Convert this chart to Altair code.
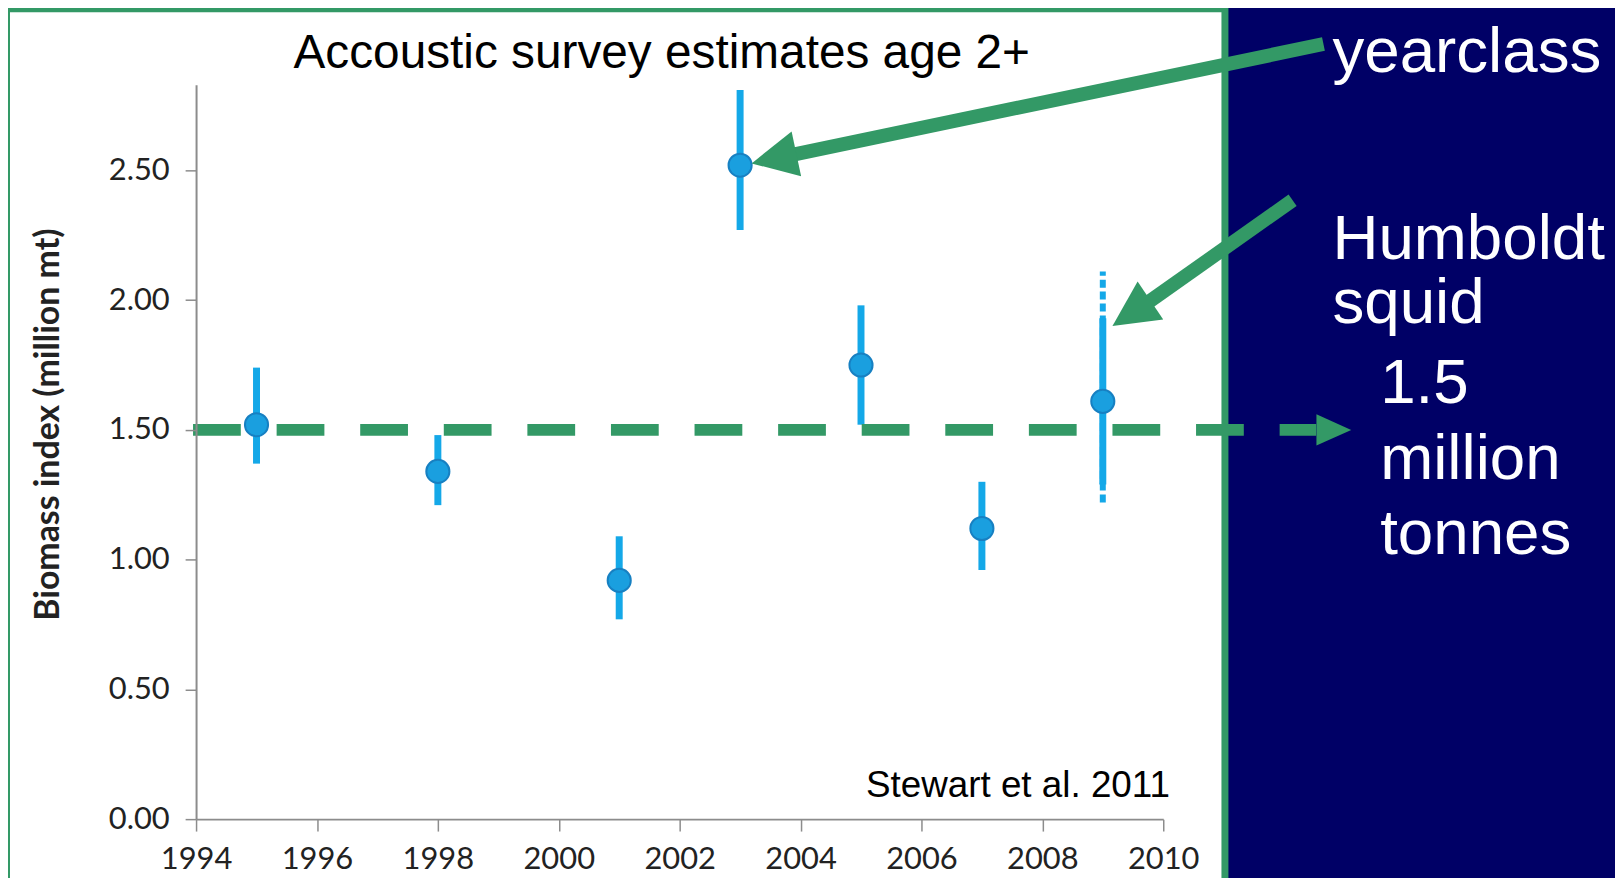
import altair as alt
import pandas as pd

# ---------------- data ----------------
years = [1995, 1998, 2001, 2003, 2005, 2007, 2009]
biomass = [1.52, 1.34, 0.92, 2.52, 1.75, 1.12, 1.61]
ci_low = [1.37, 1.21, 0.77, 2.27, 1.52, 0.96, 1.29]
ci_high = [1.74, 1.48, 1.09, 2.81, 1.98, 1.30, 1.93]

# wider (dashed) interval shown for 2009
wide_year = [2009]
wide_low = [1.22]
wide_high = [2.11]

reference_level = [1.5]

x_tick_values = [1994, 1996, 1998, 2000, 2002, 2004, 2006, 2008, 2010]
y_tick_values = [0.0, 0.5, 1.0, 1.5, 2.0, 2.5]

title_text = ["Accoustic survey estimates age 2+"]
source_text = ["Stewart et al. 2011"]
y_title = "Biomass index (million mt)"
label_yearclass = ["yearclass"]
label_squid = ["Humboldt\nsquid"]
label_level = ["1.5\nmillion\ntonnes"]

# annotation arrows (in data units)
arrow_tail_x = [2012.65, 2012.14]
arrow_tail_y = [2.987, 2.385]
arrow_neck_x = [2003.88, 2009.74]
arrow_neck_y = [2.561, 1.990]
arrow_tip_x = [2003.19, 2009.16]
arrow_tip_y = [2.527, 1.900]
arrow_angle = [168, 146]

level_start = [1993.95]
level_end = [2012.53]
level_tip = [2013.11]

# ---------------- styles ----------------
NAVY = "#000066"
GREEN = "#339966"
BAR_BLUE = "#14a8e8"
DOT_BLUE = "#1a9fdf"
AXIS_GREY = "#8c8c8c"

xs = alt.Scale(domain=[1994, 2010], nice=False, zero=False)
ys = alt.Scale(domain=[0, 2.83], nice=False, zero=False)

x_axis = alt.Axis(values=x_tick_values, format="d", labelFont="Lato", labelFontSize=31,
                  labelColor="#222222", labelPadding=14, tickSize=12, tickColor=AXIS_GREY,
                  tickWidth=1.5, domainColor=AXIS_GREY, domainWidth=2, grid=False,
                  labelFlush=False, labelOverlap=False, zindex=2)
y_axis = alt.Axis(values=y_tick_values, format=".2f", labelFont="Lato", labelFontSize=31,
                  labelColor="#222222", labelPadding=16, tickSize=11, tickColor=AXIS_GREY,
                  tickWidth=1.5, domainColor=AXIS_GREY, domainWidth=2, grid=False,
                  titleFont="Lato", titleFontSize=34, titleFontWeight="bold",
                  titleColor="#222222", titleAngle=270, titleX=-148, titleY=341,
                  titleAlign="center", titleBaseline="middle", zindex=2)


def X(f):
    return alt.X(f, type="quantitative", scale=xs, axis=x_axis, title="")


def Y(f):
    return alt.Y(f, type="quantitative", scale=ys, axis=y_axis, title=y_title)


main_df = pd.DataFrame({"year": years, "biomass": biomass, "lo": ci_low, "hi": ci_high})
wide_df = pd.DataFrame({"year": wide_year, "lo": wide_low, "hi": wide_high})
level_df = pd.DataFrame({"level": reference_level, "x0": level_start, "x1": level_end,
                         "tip": level_tip})
arrow_df = pd.DataFrame({"tx": arrow_tail_x, "ty": arrow_tail_y, "nx": arrow_neck_x,
                         "ny": arrow_neck_y, "px": arrow_tip_x, "py": arrow_tip_y,
                         "angle": arrow_angle})

# white panel with green frame
panel = alt.Chart(pd.DataFrame({"k": [0]})).mark_rect(
    fill="white", stroke=GREEN, strokeWidth=7, clip=False
).encode(x=alt.value(-190.5), x2=alt.value(1034), y=alt.value(-76.5), y2=alt.value(807))

wide_bar = alt.Chart(wide_df).mark_rule(
    color=BAR_BLUE, strokeWidth=6, strokeDash=[8, 4], strokeCap="butt", clip=False
).encode(x=X("year"), y=Y("lo"), y2=alt.Y2("hi"))

bars = alt.Chart(main_df).mark_rule(
    color=BAR_BLUE, strokeWidth=7, strokeCap="butt", clip=False
).encode(x=X("year"), y=Y("lo"), y2=alt.Y2("hi"))

dots = alt.Chart(main_df).mark_point(
    filled=True, fill=DOT_BLUE, stroke="#1780c2", strokeWidth=2, size=540, opacity=1,
    shape="circle", clip=False
).encode(x=X("year"), y=Y("biomass"))

level_line = alt.Chart(level_df).mark_rule(
    color=GREEN, strokeWidth=12, strokeDash=[48, 36], strokeCap="butt", clip=False
).encode(x=X("x0"), x2=alt.X2("x1"), y=Y("level"))

level_head = alt.Chart(level_df).mark_point(
    shape="M0,0L-2,-0.9L-2,0.9Z", filled=True, color=GREEN, opacity=1, size=1225,
    angle=0, clip=False
).encode(x=X("tip"), y=Y("level"))

arrow_shaft = alt.Chart(arrow_df).mark_rule(
    color=GREEN, strokeWidth=14, strokeCap="butt", clip=False
).encode(x=X("tx"), y=Y("ty"), x2=alt.X2("nx"), y2=alt.Y2("ny"))

arrow_head = alt.Chart(arrow_df).mark_point(
    shape="M0,0L-2,-1L-2,1Z", filled=True, color=GREEN, opacity=1, size=2116, clip=False
).encode(x=X("px"), y=Y("py"), angle=alt.Angle("angle:Q", scale=None))

title_mark = alt.Chart(pd.DataFrame({"t": title_text})).mark_text(
    font="Liberation Sans", fontSize=48,
    align="center", baseline="alphabetic", color="black", clip=False
).encode(x=alt.value(468), y=alt.value(-17), text="t:N")

source_mark = alt.Chart(pd.DataFrame({"t": source_text})).mark_text(
    font="Liberation Sans", fontSize=37,
    align="center", baseline="alphabetic", color="black", clip=False
).encode(x=alt.value(826), y=alt.value(716), text="t:N")


def side_text(lines, px, py, lh, size=64):
    return alt.Chart(pd.DataFrame({"t": lines})).mark_text(
        font="Liberation Sans, Arial", fontSize=size, align="left", baseline="alphabetic",
        color="white", lineBreak="\n", lineHeight=lh, clip=False
    ).encode(x=alt.value(px), y=alt.value(py), text="t:N")


chart = alt.layer(
    panel, wide_bar, bars, dots, level_line, level_head, arrow_shaft, arrow_head,
    title_mark, source_mark,
    side_text(label_yearclass, 1142, -13, 70),
    side_text(label_squid, 1142, 175, 64),
    side_text(label_level, 1190, 320, 76),
).properties(
    width=972, height=738, background=NAVY,
    padding={"left": 189, "top": 75, "right": 454, "bottom": 57},
    autosize=alt.AutoSizeParams(type="none"),
).configure_view(strokeWidth=0)

chart.save("out.html", embed_options={"renderer": "svg", "actions": False})
